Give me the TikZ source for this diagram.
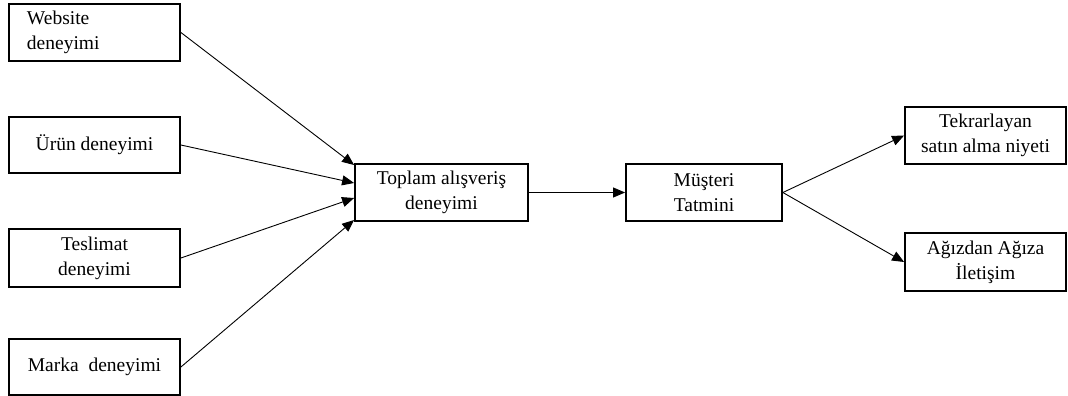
\documentclass[tikz,border=0pt]{standalone}
\usepackage{fontspec}
\setmainfont{Liberation Serif}
\usetikzlibrary{arrows.meta}
\begin{document}
\begin{tikzpicture}[x=1pt,y=-1pt,
  box/.style={draw,line width=1.8pt,inner sep=0pt,align=center,font=\fontsize{19.5}{25}\selectfont},
  conn/.style={line width=0.9pt,-{Triangle[length=12pt,width=10pt]}}]
\useasboundingbox (0,0) rectangle (1068,396);
\node[box,minimum width=171pt,minimum height=57pt,text width=135pt,align=left,inner xsep=18pt] (web) at (94.5,32.5) {Website\\deneyimi};
\node[box,minimum width=171pt,minimum height=56pt] (urun) at (94.5,145) {Ürün deneyimi};
\node[box,minimum width=171pt,minimum height=58pt] (tes) at (94.5,258) {Teslimat\\deneyimi};
\node[box,minimum width=171pt,minimum height=56pt] (mar) at (94.5,367) {Marka\ \ deneyimi};
\node[box,minimum width=173pt,minimum height=57pt] (top) at (441.5,192.5) {Toplam alışveriş\\deneyimi};
\node[box,minimum width=156pt,minimum height=57pt] (mus) at (704,192.5) {Müşteri\\Tatmini};
\node[box,minimum width=161pt,minimum height=57pt] (tek) at (985.5,135.5) {Tekrarlayan\\satın alma\ niyeti};
\node[box,minimum width=161pt,minimum height=58pt] (agz) at (985.5,262) {Ağızdan Ağıza\\İletişim};
\draw[conn] (web.east) -- ([yshift=27.5pt]top.west);
\draw[conn] (urun.east) -- ([yshift=9.5pt]top.west);
\draw[conn] (tes.east) -- ([yshift=-5.5pt]top.west);
\draw[conn] (mar.east) -- ([yshift=-27.5pt]top.west);
\draw[conn] (top.east) -- (mus.west);
\draw[conn] (mus.east) -- (tek.west);
\draw[conn] (mus.east) -- (agz.west);
\end{tikzpicture}
\end{document}
